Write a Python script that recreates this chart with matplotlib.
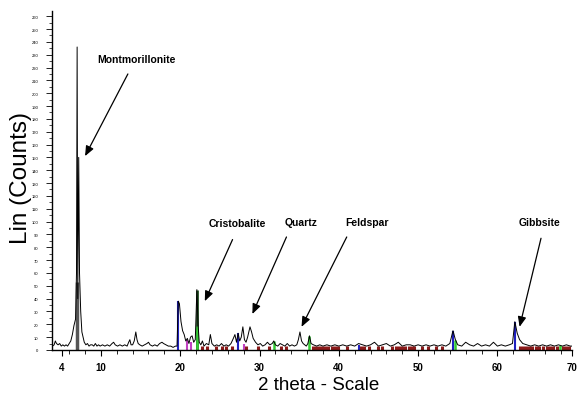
import matplotlib
matplotlib.use("Agg")
import matplotlib.pyplot as plt

# measured trace (2-theta, counts)
two_theta = [3.9, 4.1, 4.25, 4.4, 4.6, 4.8, 5.0, 5.2, 5.4, 5.6, 5.8, 6.0, 6.2, 6.4, 6.6,
             6.8, 6.92, 7.0, 7.08, 7.2, 7.3, 7.45, 7.6, 7.75, 7.9, 8.1, 8.3, 8.5, 8.7, 8.9,
             9.1, 9.3, 9.5, 9.7, 9.9, 10.2, 10.5, 10.8, 11.1, 11.4, 11.6, 11.8, 12.1, 12.4,
             12.7, 13.0, 13.3, 13.5, 13.65, 13.8, 14.0, 14.2, 14.4, 14.55, 14.7, 14.9, 15.2,
             15.5, 15.8, 16.0, 16.2, 16.5, 16.8, 17.1, 17.4, 17.7, 17.9, 18.2, 18.5, 18.8,
             19.1, 19.4, 19.6, 19.75, 19.9, 20.1, 20.3, 20.5, 20.7, 20.9, 21.1, 21.3, 21.5,
             21.7, 21.9, 22.1, 22.25, 22.4, 22.6, 22.8, 23.0, 23.3, 23.6, 23.8, 24.0, 24.3,
             24.6, 24.9, 25.2, 25.5, 25.8, 26.1, 26.4, 26.7, 26.9, 27.1, 27.3, 27.5, 27.7,
             27.9, 28.1, 28.3, 28.5, 28.8, 29.0, 29.2, 29.5, 29.8, 30.1, 30.4, 30.7, 31.0,
             31.3, 31.6, 31.8, 32.0, 32.3, 32.6, 32.9, 33.2, 33.5, 33.8, 34.1, 34.4, 34.7,
             34.9, 35.1, 35.3, 35.5, 35.7, 35.9, 36.1, 36.3, 36.5, 36.8, 37.2, 37.6, 38.0,
             38.5, 39.0, 39.5, 40.0, 40.5, 41.0, 41.5, 42.0, 42.5, 43.0, 43.5, 44.0, 44.5,
             45.0, 45.5, 46.0, 46.5, 47.0, 47.5, 48.0, 48.5, 49.0, 49.5, 50.0, 50.5, 51.0,
             51.5, 52.0, 52.5, 53.0, 53.5, 54.0, 54.4, 54.7, 55.0, 55.5, 56.0, 56.5, 57.0,
             57.5, 58.0, 58.5, 59.0, 59.5, 60.0, 60.5, 61.0, 61.5, 61.9, 62.2, 62.5, 62.8,
             63.2, 63.7, 64.2, 64.7, 65.2, 65.7, 66.2, 66.7, 67.2, 67.7, 68.2, 68.7, 69.2,
             69.6]
counts = [3, 4, 7, 5, 4, 5, 3, 4, 3, 4, 3, 5, 7, 12, 19,
          24, 60, 236, 40, 150, 60, 30, 14, 10, 6, 4, 5, 3, 4, 4,
          3, 5, 3, 4, 3, 4, 3, 4, 3, 5, 6, 4, 3, 4,
          3, 4, 3, 6, 8, 4, 4, 7, 14, 8, 5, 4, 3,
          4, 5, 6, 4, 3, 4, 3, 5, 6, 5, 4, 3, 3,
          2, 3, 3, 38, 36, 22, 15, 12, 7, 9, 5, 10, 11,
          6, 8, 47, 20, 6, 4, 7, 3, 5, 4, 12, 5, 3,
          4, 3, 5, 3, 4, 3, 5, 9, 12, 6, 13, 7, 10,
          18, 8, 6, 10, 18, 14, 9, 6, 4, 5, 3, 4, 6,
          4, 5, 7, 4, 3, 5, 4, 3, 5, 3, 4, 3, 4,
          8, 14, 7, 5, 4, 3, 5, 11, 5, 4, 3, 4, 3,
          4, 3, 4, 3, 4, 3, 4, 3, 5, 4, 3, 4, 6,
          3, 4, 5, 3, 4, 6, 3, 4, 4, 3, 4, 3, 4,
          3, 4, 3, 4, 3, 5, 15, 8, 4, 3, 6, 4, 3,
          5, 3, 4, 3, 6, 3, 4, 3, 4, 5, 22, 13, 8,
          5, 4, 3, 4, 3, 4, 3, 4, 3, 4, 3, 4, 3,
          3]

# reference-pattern sticks
montm_pos, montm_h = [6.95], [53]
blue_pos = [19.75, 27.3, 42.5, 54.4, 62.2]
blue_h = [38, 13, 4, 15, 22]
dgreen_pos, dgreen_h = [22.1], [47]
green_pos = [22.1, 31.8, 36.3, 54.7, 67.9]
green_h = [19, 7, 11, 8, 4]
magenta_pos = [20.9, 21.3, 28.0]
magenta_h = [8, 6, 5]
red_pos = [22.7, 23.4, 24.5, 25.3, 25.8, 26.5, 28.3, 29.8, 31.2, 32.7, 33.3,
           36.7, 37.1, 37.5, 37.9, 38.3, 38.7, 39.1, 39.5, 39.9, 41.0, 42.8, 43.2,
           43.8, 45.0, 45.4, 46.7, 47.2, 47.6, 48.0, 48.4, 48.8, 49.2, 49.5, 50.5,
           51.3, 52.2, 53.0, 62.8, 63.2, 63.6, 64.0, 64.4, 64.9, 65.3, 65.7, 66.2,
           66.6, 67.0, 67.5, 68.3, 68.7, 69.0]
red_h = [3] * len(red_pos)

# mineral labels: text position, arrow tail, arrow head
minerals = ["Montmorillonite", "Cristobalite", "Quartz", "Feldspar", "Gibbsite"]
label_xy = [(14.5, 227), (27.25, 99), (35.3, 100), (43.5, 100), (65.3, 100)]
tail_xy = [(13.4, 215), (26.6, 86), (33.4, 88), (41.0, 88), (65.5, 87)]
head_xy = [(8.0, 151), (23.1, 38), (29.1, 28), (35.3, 18), (62.8, 18)]

xtick_pos = [5.1, 10, 20, 30, 40, 50, 60, 69.4]
xtick_lab = ["4", "10", "20", "30", "40", "50", "60", "70"]

plt.rcParams["font.family"] = ["Liberation Sans", "DejaVu Sans"]
fig = plt.figure(figsize=(5.79, 4.02), dpi=100)
ax = fig.add_axes([0.0898, 0.127, 0.898, 0.843])

ax.vlines(montm_pos, 0, montm_h, color="#555555", lw=2.5)
ax.vlines(red_pos, 0, red_h, color="#8b1a1a", lw=2.2)
ax.vlines(magenta_pos, 0, magenta_h, color="#c040c0", lw=1.5)
ax.vlines(blue_pos, 0, blue_h, color="#2020c0", lw=1.5)
ax.vlines(dgreen_pos, 0, dgreen_h, color="#1f4d1f", lw=2.0)
ax.vlines(green_pos, 0, green_h, color="#33cc33", lw=1.8)
ax.plot(two_theta, counts, color="black", lw=0.7)

for name, lxy, txy, hxy in zip(minerals, label_xy, tail_xy, head_xy):
    ax.text(lxy[0], lxy[1], name, ha="center", va="center", fontsize=7.5,
            fontweight="bold")
    ax.annotate("", xy=hxy, xytext=txy,
                arrowprops=dict(arrowstyle="-|>,head_length=0.6,head_width=0.25",
                                color="black", lw=0.9, shrinkA=0, shrinkB=0))

ax.set_xlim(3.83, 69.3)
ax.set_ylim(0, 264)
ax.set_xticks(xtick_pos)
ax.set_xticklabels(xtick_lab, fontsize=7, fontweight="bold")
ax.set_xticks(range(6, 70, 2), minor=True)
ax.set_yticks(range(0, 261, 10))
ax.set_yticklabels([str(v) for v in range(0, 261, 10)], fontsize=3)
ax.set_yticks(range(5, 264, 10), minor=True)
ax.tick_params(axis="x", which="major", length=4, width=0.8, pad=5)
ax.tick_params(axis="x", which="minor", length=3, width=0.6)
ax.tick_params(axis="y", which="major", length=4, width=0.6, pad=6)
ax.tick_params(axis="y", which="minor", length=2, width=0.5)
for s in ["top", "right"]:
    ax.spines[s].set_visible(False)
ax.spines["left"].set_linewidth(1.0)
ax.spines["bottom"].set_linewidth(1.0)

fig.text(0.037, 0.557, "Lin (Counts)", rotation=90, ha="center", va="center",
         fontsize=17.5)
fig.text(0.55, 0.04, "2 theta - Scale", ha="center", va="center", fontsize=13.5)

fig.savefig("out.png", dpi=100)
